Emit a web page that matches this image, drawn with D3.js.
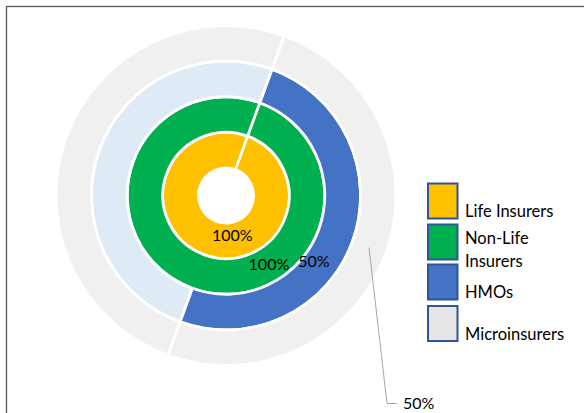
<!DOCTYPE html>
<html>
<head>
<meta charset="utf-8">
<script src="https://cdn.jsdelivr.net/npm/d3@7"></script>
<style>
  body { margin: 0; background: #fff; }
  svg { display: block; }
</style>
</head>
<body>
<svg id="chart"></svg>
<script>
// categories shown in the legend
const categories = ["Life Insurers", "Non-Life Insurers", "HMOs", "Microinsurers"];
// rings from the inside out: first slice value and the remaining slice value (%)
const ringFirst = [100, 100, 50, 50];
const ringRest = [0, 0, 50, 50];
// which rings show a label on their first slice
const ringLabels = ["100%", "100%", "50%", "50%"];

const legendColors = ["#FFC000", "#00B050", "#4472C4", "#E7E6E6"];
const firstColors = ["#FFC000", "#00B050", "#4472C4", "#F0F0F0"];
const restColors = ["#FFC000", "#00B050", "#DEEBF7", "#F0F0F0"];

class ringChart {
  constructor(_config) {
    this.config = {
      parentElement: _config.parentElement,
      containerWidth: _config.containerWidth || 584,
      containerHeight: _config.containerHeight || 413,
      cx: 226, cy: 195.5,
      outerRadius: 170,
      holeRadius: 27.5
    };
    this.initVis();
  }
  initVis() {
    let vis = this;
    vis.svg = d3.select(vis.config.parentElement)
      .attr('width', vis.config.containerWidth)
      .attr('height', vis.config.containerHeight);

    // chart area border
    vis.svg.append('rect')
      .attr('x', 6.5).attr('y', 6.5)
      .attr('width', 700).attr('height', 500)
      .attr('fill', 'none')
      .attr('stroke', '#595959')
      .attr('stroke-width', 1.3);

    vis.chart = vis.svg.append('g')
      .attr('transform', `translate(${vis.config.cx},${vis.config.cy})`);

    vis.ringScale = d3.scaleLinear()
      .domain([0, ringFirst.length])
      .range([vis.config.holeRadius, vis.config.outerRadius]);

    vis.pie = d3.pie()
      .sort(null)
      .value(d => d.value)
      .startAngle(20 * Math.PI / 180)
      .endAngle(380 * Math.PI / 180);

    vis.ringData = ringFirst.map((v, i) => [
      { ring: i, slice: 0, value: v, color: firstColors[i] },
      { ring: i, slice: 1, value: ringRest[i], color: restColors[i] }
    ]);

    vis.updateVis();
  }
  updateVis() {
    let vis = this;

    const rings = vis.chart.selectAll('.ring')
      .data(vis.ringData)
      .join('g')
      .attr('class', 'ring');

    rings.each(function(d, i) {
      const arc = d3.arc()
        .innerRadius(vis.ringScale(i))
        .outerRadius(vis.ringScale(i + 1));
      d3.select(this).selectAll('path')
        .data(vis.pie(d))
        .join('path')
        .attr('d', arc)
        .attr('fill', p => p.data.color)
        .attr('stroke', '#fff')
        .attr('stroke-width', 2.8)
        .attr('stroke-linejoin', 'round');
    });

    // data labels (Excel nudges them around, so angle per ring)
    const labelAngles = [171, 148, 127];
    const labelRadius = [40, 81, 110];
    const deg = Math.PI / 180;
    vis.chart.selectAll('.lbl')
      .data(labelAngles)
      .join('text')
      .attr('class', 'lbl')
      .attr('x', (a, i) => labelRadius[i] * Math.sin(a * deg))
      .attr('y', (a, i) => -labelRadius[i] * Math.cos(a * deg))
      .attr('dy', '0.35em')
      .attr('text-anchor', 'middle')
      .attr('font-family', 'Lato, sans-serif')
      .attr('font-size', 16)
      .attr('fill', '#000')
      .text((a, i) => ringLabels[i]);

    // outer ring label with leader line
    const outer = ringFirst.length - 1;
    const outerArc = d3.arc()
      .innerRadius(vis.ringScale(outer))
      .outerRadius(vis.ringScale(outer + 1));
    const outerSlice = vis.pie(vis.ringData[outer])[0];
    const c = outerArc.centroid(outerSlice);
    vis.chart.append('polyline')
      .attr('points', [[c[0], c[1]], [161, 208], [171, 208]].map(p => p.join(',')).join(' '))
      .attr('fill', 'none')
      .attr('stroke', '#A6A6A6')
      .attr('stroke-width', 1);
    vis.chart.append('text')
      .attr('x', 177).attr('y', 208)
      .attr('dy', '0.35em')
      .attr('font-family', 'Lato, sans-serif')
      .attr('font-size', 16)
      .attr('fill', '#000')
      .text(ringLabels[outer]);

    // legend
    const legY = [183.5, 224.5, 264.5, 306];
    const leg = vis.svg.selectAll('.leg')
      .data(categories)
      .join('g')
      .attr('class', 'leg')
      .attr('transform', (d, i) => `translate(428,${legY[i]})`);
    leg.append('rect')
      .attr('x', 0).attr('y', 0)
      .attr('width', 29.5).attr('height', 35)
      .attr('fill', (d, i) => legendColors[i])
      .attr('stroke', '#2F5597')
      .attr('stroke-width', 2);
    leg.append('text')
      .attr('font-family', 'Lato, sans-serif')
      .attr('font-size', 16.5)
      .attr('fill', '#000')
      .each(function(d) {
        const lines = d === 'Non-Life Insurers' ? ['Non-Life', 'Insurers'] : [d];
        const startY = lines.length > 1 ? 19.5 : 33.5;
        d3.select(this).selectAll('tspan')
          .data(lines)
          .join('tspan')
          .attr('x', 37)
          .attr('y', (l, j) => startY + j * 23.4)
          .text(l => l);
      });
  }
}

new ringChart({ parentElement: '#chart' });
</script>
</body>
</html>
